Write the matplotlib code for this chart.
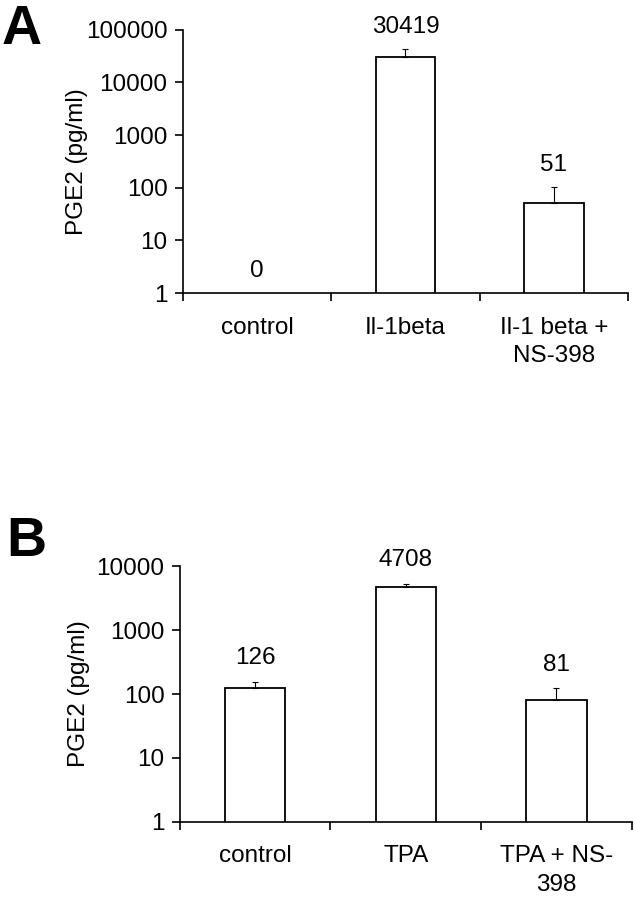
import numpy as np
import matplotlib
matplotlib.use('Agg')
import matplotlib.pyplot as plt

plt.rcParams['font.family'] = ['Liberation Sans', 'DejaVu Sans']

# panel A - Il-1beta stimulation
cats_a = ['control', 'Il-1beta', 'Il-1 beta +\nNS-398']
vals_a = [0, 30419, 51]
err_a = [0, 13000, 50]
yticks_a = [1, 10, 100, 1000, 10000, 100000]

# panel B - TPA stimulation
cats_b = ['control', 'TPA', 'TPA + NS-\n398']
vals_b = [126, 4708, 81]
err_b = [30, 600, 42]
yticks_b = [1, 10, 100, 1000, 10000]

FS = 17.5


def draw_panel(ax, cats, vals, errs, yticks, lab_off, ylab_x):
    n = len(cats)
    x = np.arange(n) + 0.5
    vals = np.array(vals, dtype=float)
    errs = np.array(errs, dtype=float)
    has = vals > 0
    ax.bar(x[has], vals[has], 0.4, color='white', edgecolor='black',
           linewidth=1.3, zorder=2)
    ax.errorbar(x[has], vals[has], yerr=[np.zeros(has.sum()), errs[has]],
                fmt='none', ecolor='black', elinewidth=0.8, capsize=2,
                capthick=0.8, zorder=3)
    for xi, v, e in zip(x, vals, errs):
        top = v + e if v > 0 else yticks[0]
        ax.annotate(f'{int(v)}', (xi, top), xytext=(0, lab_off),
                    textcoords='offset points', ha='center', va='center',
                    fontsize=FS)
    ax.set_yscale('log')
    ax.set_ylim(yticks[0], yticks[-1])
    ax.set_yticks(yticks)
    ax.set_yticklabels([str(t) for t in yticks], fontsize=FS)
    ax.yaxis.set_minor_locator(matplotlib.ticker.NullLocator())
    ax.set_xlim(0, n)
    ax.set_xticks(np.arange(n + 1))
    ax.set_xticklabels([])
    ax.set_xticks(x, minor=True)
    ax.set_xticklabels(cats, minor=True, fontsize=FS, linespacing=1.4)
    ax.tick_params(axis='x', which='minor', length=0, pad=17)
    ax.tick_params(axis='both', which='major', direction='out', length=6,
                   width=1.2)
    ax.tick_params(axis='y', pad=5)
    for s in ['top', 'right']:
        ax.spines[s].set_visible(False)
    for s in ['left', 'bottom']:
        ax.spines[s].set_linewidth(1.2)
    ax.set_ylabel('PGE2 (pg/ml)', fontsize=FS)
    ax.yaxis.set_label_coords(ylab_x, 0.5)


fig = plt.figure(figsize=(6.35, 8.99), dpi=100)
ax_a = fig.add_axes([0.288, 0.674, 0.701, 0.293])
ax_b = fig.add_axes([0.283, 0.086, 0.712, 0.284])

draw_panel(ax_a, cats_a, vals_a, err_a, yticks_a, 16, -0.213)
draw_panel(ax_b, cats_b, vals_b, err_b, yticks_b, 17, -0.199)

fig.text(0.003, 0.967, 'A', fontsize=40, fontweight='bold', va='center')
fig.text(0.010, 0.397, 'B', fontsize=40, fontweight='bold', va='center')

fig.savefig('out.png', dpi=100, facecolor='white')
